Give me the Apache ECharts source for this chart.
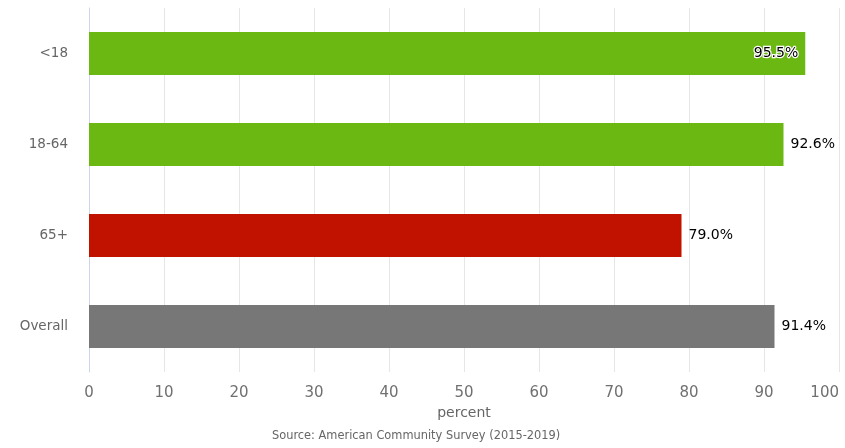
<!DOCTYPE html>
<html>
<head>
<meta charset="utf-8">
<script src="https://cdn.jsdelivr.net/npm/echarts@6/dist/echarts.min.js"></script>
<style>
  html, body { margin: 0; padding: 0; background: #fff; }
  #chart { width: 845px; height: 448px; }
</style>
</head>
<body>
<div id="chart"></div>
<script>
var categories = ['<18', '18-64', '65+', 'Overall'];
var values = [95.5, 92.6, 79.0, 91.4];
var colors = ['#6bb812', '#6bb812', '#c11200', '#777777'];
var xTicks = [0, 100, 10];

var font = 'DejaVu Sans';

var data = values.map(function (v, i) {
  var item = {value: v, itemStyle: {color: colors[i]}};
  // first bar label does not fit outside, drawn inside with outline
  if (i === 0) {
    item.label = {
      position: 'insideRight',
      distance: 7,
      textBorderColor: '#fff',
      textBorderWidth: 2.5
    };
  }
  return item;
});

var chart = echarts.init(document.getElementById('chart'));
chart.setOption({
  animation: false,
  textStyle: {fontFamily: font},
  grid: {left: 89, right: 6, top: 8, bottom: 76},
  xAxis: {
    type: 'value',
    min: xTicks[0],
    max: xTicks[1],
    interval: xTicks[2],
    name: 'percent',
    nameLocation: 'middle',
    nameGap: 33,
    nameTextStyle: {color: '#666', fontSize: 14, fontFamily: font},
    axisLine: {show: false},
    axisTick: {show: false},
    axisLabel: {color: '#707070', fontSize: 15, margin: 14, fontFamily: font, alignMaxLabel: 'right'},
    splitLine: {lineStyle: {color: '#e6e6e6', width: 1}}
  },
  yAxis: {
    type: 'category',
    inverse: true,
    data: categories,
    axisLine: {lineStyle: {color: '#ccd6eb'}},
    axisTick: {show: false},
    axisLabel: {color: '#666', fontSize: 13.5, margin: 21, fontFamily: font}
  },
  series: [{
    type: 'bar',
    data: data,
    barCategoryGap: '53%',
    label: {
      show: true,
      position: 'right',
      distance: 7,
      color: '#000',
      fontSize: 14,
      fontFamily: font,
      formatter: function (p) { return p.value.toFixed(1) + '%'; }
    }
  }],
  graphic: [{
    type: 'text',
    left: 272,
    top: 431,
    style: {
      text: 'Source: American Community Survey (2015-2019)',
      fill: '#666',
      fontSize: 11.4,
      fontFamily: font
    }
  }]
});
</script>
</body>
</html>
